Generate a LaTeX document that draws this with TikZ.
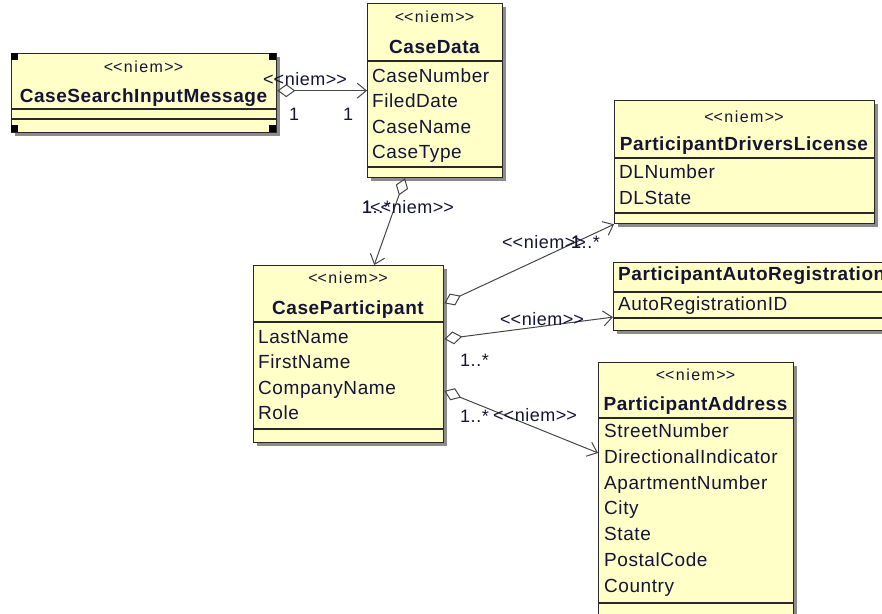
\documentclass[tikz,border=0pt]{standalone}
\usepackage{fontspec}
\setmainfont{Liberation Sans}
\newfontfamily\umlfont[LetterSpace=3]{Liberation Sans}
\newfontfamily\stfont[LetterSpace=9]{Liberation Sans}
\usetikzlibrary{arrows.meta,shadows}

\definecolor{gul}{RGB}{255,255,200}
\definecolor{kant}{RGB}{40,40,40}
\definecolor{tekst}{RGB}{20,20,55}
\definecolor{streg}{RGB}{70,70,70}
\newcommand{\niem}{<\kern0pt<niem>\kern0pt>}

\begin{document}
\begin{tikzpicture}[x=1pt,y=-1pt,
  klasse/.style={draw=kant,fill=gul,line width=1.3pt,inner sep=0pt,anchor=north west,
    drop shadow={shadow xshift=3pt,shadow yshift=-3pt,fill=black!45,opacity=1}},
  skille/.style={draw=kant,line width=1.2pt},
  stereo/.style={anchor=base,inner sep=0pt,text=tekst,font=\stfont\fontsize{16}{18}\selectfont},
  navn/.style={anchor=base,inner sep=0pt,text=tekst,font=\umlfont\bfseries\fontsize{19}{22}\selectfont},
  attr/.style={anchor=base west,inner sep=0pt,text=tekst,font=\umlfont\fontsize{19}{22}\selectfont},
  etiket/.style={anchor=base west,inner sep=0pt,text=tekst,font=\umlfont\fontsize{18}{21}\selectfont},
  assoc/.style={draw=streg,line width=1pt,
    arrows={Diamond[open,length=18pt,width=13pt]-Straight Barb[length=9pt,width=15pt]}}]
\useasboundingbox (0,0) rectangle (882,613);
\clip (0,0) rectangle (882,613);
% tegn klasser
\node[klasse,minimum width=265pt,minimum height=79pt] (csim) at (11,53) {};
\draw[skille] (11,109) -- (276,109);
\draw[skille] (11,119) -- (276,119);
\node[stereo] (csim-st) at (143.5,72) {\niem};
\node[navn] (csim-navn) at (143.5,102) {CaseSearchInputMessage};
\fill[black] (11,53) rectangle (18,60);
\fill[black] (269,53) rectangle (276,60);
\fill[black] (11,125) rectangle (18,132);
\fill[black] (269,125) rectangle (276,132);

\node[klasse,minimum width=135pt,minimum height=174pt] (cd) at (367,3) {};
\draw[skille] (367,61) -- (502,61);
\draw[skille] (367,167) -- (502,167);
\node[stereo] (cd-st) at (434.5,22) {\niem};
\node[navn] (cd-navn) at (434.5,53) {CaseData};
\node[attr] (cd-a1) at (372,82) {CaseNumber};
\node[attr] (cd-a2) at (372,107) {FiledDate};
\node[attr] (cd-a3) at (372,133) {CaseName};
\node[attr] (cd-a4) at (372,158) {CaseType};

\node[klasse,minimum width=260pt,minimum height=123pt] (pdl) at (614,100) {};
\draw[skille] (614,158) -- (874,158);
\draw[skille] (614,213) -- (874,213);
\node[stereo] (pdl-st) at (744,122) {\niem};
\node[navn] (pdl-navn) at (744,150) {ParticipantDriversLicense};
\node[attr] (pdl-a1) at (619,178) {DLNumber};
\node[attr] (pdl-a2) at (619,204) {DLState};

\node[klasse,minimum width=290pt,minimum height=68pt] (par) at (613,262) {};
\draw[skille] (613,292) -- (903,292);
\draw[skille] (613,318) -- (903,318);
\node[navn,anchor=base west] (par-navn) at (618,280) {ParticipantAutoRegistration};
\node[attr] (par-a1) at (618,310) {AutoRegistrationID};

\node[klasse,minimum width=190pt,minimum height=177pt] (cp) at (253,265) {};
\draw[skille] (253,322) -- (443,322);
\draw[skille] (253,429) -- (443,429);
\node[stereo] (cp-st) at (348,283) {\niem};
\node[navn] (cp-navn) at (348,314) {CaseParticipant};
\node[attr] (cp-a1) at (258,343) {LastName};
\node[attr] (cp-a2) at (258,368) {FirstName};
\node[attr] (cp-a3) at (258,394) {CompanyName};
\node[attr] (cp-a4) at (258,419) {Role};

\node[klasse,minimum width=195pt,minimum height=252pt] (pa) at (598,362) {};
\draw[skille] (598,418) -- (793,418);
\draw[skille] (598,603) -- (793,603);
\node[stereo] (pa-st) at (695.5,380) {\niem};
\node[navn] (pa-navn) at (695.5,410) {ParticipantAddress};
\node[attr] (pa-a1) at (604,437) {StreetNumber};
\node[attr] (pa-a2) at (604,463) {DirectionalIndicator};
\node[attr] (pa-a3) at (604,489) {ApartmentNumber};
\node[attr] (pa-a4) at (604,514) {City};
\node[attr] (pa-a5) at (604,540) {State};
\node[attr] (pa-a6) at (604,566) {PostalCode};
\node[attr] (pa-a7) at (604,592) {Country};

% tegn forbindelser
\draw[assoc] (csim.east |- cd.west) -- (cd.west);
\draw[assoc] (cd.251) -- (cp.74);
\draw[assoc] (cp.28.5) -- (pdl.south west);
\draw[assoc] (cp.9) -- (par.188);
\draw[assoc] (cp.-21.5) -- (pa.160);

% tegn etiketter
\node[etiket] (l-csim) at (263,85) {\niem};
\node[etiket] (m-csim1) at (289,120) {1};
\node[etiket] (m-csim2) at (343,120) {1};
\node[etiket] (m-cd1) at (362,213) {1..*};
\node[etiket] (m-cd2) at (362,213) {1};
\node[etiket] (l-cd) at (370,213) {\niem};
\node[etiket] (l-pdl) at (502,248) {\niem};
\node[etiket] (m-pdl1) at (571,248) {1..*};
\node[etiket] (m-pdl2) at (571,248) {1};
\node[etiket] (l-par) at (500,325) {\niem};
\node[etiket] (m-par) at (460,366) {1..*};
\node[etiket] (m-pa) at (460,422) {1..*};
\node[etiket] (l-pa) at (493,421) {\niem};
\end{tikzpicture}
\end{document}
